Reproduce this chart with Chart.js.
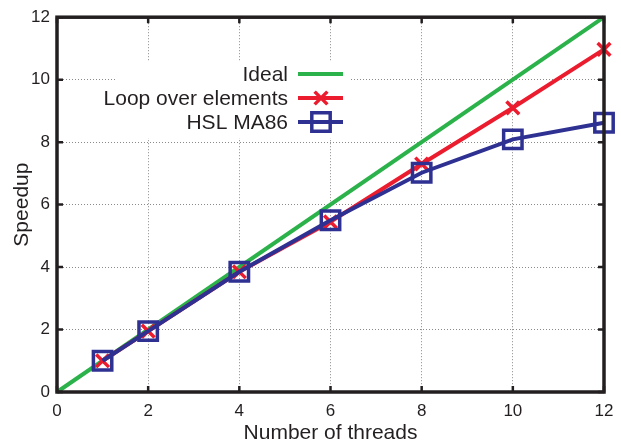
<!DOCTYPE html>
<html>
<head>
<meta charset="utf-8">
<script src="https://cdn.jsdelivr.net/npm/chart.js@4.4.1/dist/chart.umd.min.js"></script>
<style>
  html, body { margin: 0; padding: 0; background: #fff; }
  #wrap { width: 621px; height: 446px; }
</style>
</head>
<body>
<div id="wrap"><canvas id="chart" width="621" height="446"></canvas></div>
<script>
// values
const idealThreads = [0, 12];
const idealSpeedup = [0, 12];
const threads = [1, 2, 4, 6, 8, 10, 12];
const loopSpeedup = [1.0, 1.95, 3.85, 5.45, 7.3, 9.1, 10.97];
const ma86Speedup = [1.0, 1.95, 3.85, 5.5, 7.02, 8.09, 8.62];
const xTicks = [0, 2, 4, 6, 8, 10, 12];
const yTicks = [0, 2, 4, 6, 8, 10, 12];

const GREEN = '#2bb24a';
const RED = '#ec1c2f';
const BLUE = '#2e3192';
const TEXT = '#231f20';
const FONT = '"Liberation Sans", Arial, sans-serif';

const pts = (xs, ys) => xs.map((x, i) => ({ x: x, y: ys[i] }));

// frame, inward tick marks and the boxed legend
const framePlugin = {
  id: 'frame',
  beforeDatasetsDraw(chart) {
    const ctx = chart.ctx;
    ctx.save();
    ctx.fillStyle = '#fff';
    ctx.fillRect(115, 62, 236, 76);
    ctx.restore();
  },
  afterDatasetsDraw(chart) {
    const { ctx, chartArea: a, scales } = chart;
    ctx.save();
    ctx.strokeStyle = '#231f20';
    ctx.lineWidth = 2.5;
    xTicks.forEach(v => {
      const px = scales.x.getPixelForValue(v);
      ctx.beginPath();
      ctx.moveTo(px, a.bottom); ctx.lineTo(px, a.bottom - 6);
      ctx.moveTo(px, a.top); ctx.lineTo(px, a.top + 6);
      ctx.stroke();
    });
    yTicks.forEach(v => {
      const py = scales.y.getPixelForValue(v);
      ctx.beginPath();
      ctx.moveTo(a.left, py); ctx.lineTo(a.left + 6, py);
      ctx.moveTo(a.right, py); ctx.lineTo(a.right - 6, py);
      ctx.stroke();
    });
    ctx.lineWidth = 3.5;
    ctx.strokeRect(a.left, a.top, a.right - a.left, a.bottom - a.top);

    // legend
    ctx.font = '21px ' + FONT;
    ctx.textAlign = 'right';
    ctx.textBaseline = 'middle';
    chart.data.datasets.forEach((ds, i) => {
      const y = 74 + i * 24;
      ctx.fillStyle = TEXT;
      ctx.fillText(ds.label, 288, y + 1);
      ctx.strokeStyle = ds.borderColor;
      ctx.lineWidth = ds.borderWidth;
      ctx.beginPath();
      ctx.moveTo(298, y); ctx.lineTo(343, y);
      ctx.stroke();
      if (ds.pointRadius > 0) {
        ctx.lineWidth = ds.pointBorderWidth;
        ctx.strokeStyle = ds.borderColor;
        ctx.fillStyle = 'rgba(0,0,0,0)';
        Chart.helpers.drawPoint(ctx, { pointStyle: ds.pointStyle, radius: ds.pointRadius, rotation: 0, borderWidth: ds.pointBorderWidth }, 321, y);
      }
    });
    ctx.restore();
  }
};

new Chart(document.getElementById('chart').getContext('2d'), {
  type: 'line',
  data: {
    datasets: [
      {
        label: 'Ideal',
        data: pts(idealThreads, idealSpeedup),
        borderColor: GREEN,
        borderWidth: 4,
        pointRadius: 0,
        clip: false,
        order: 3
      },
      {
        label: 'Loop over elements',
        data: pts(threads, loopSpeedup),
        borderColor: RED,
        borderWidth: 4,
        pointStyle: 'crossRot',
        pointRadius: 9,
        pointBorderWidth: 3.5,
        pointBackgroundColor: 'rgba(0,0,0,0)',
        clip: false,
        order: 2
      },
      {
        label: 'HSL MA86',
        data: pts(threads, ma86Speedup),
        borderColor: BLUE,
        borderWidth: 4,
        pointStyle: 'rect',
        pointRadius: 13,
        pointBorderWidth: 3.5,
        pointBackgroundColor: 'rgba(0,0,0,0)',
        clip: false,
        order: 1
      }
    ]
  },
  options: {
    responsive: false,
    animation: false,
    layout: { padding: { top: 15, right: 17, left: 0, bottom: 0 } },
    plugins: { legend: { display: false }, tooltip: { enabled: false } },
    scales: {
      x: {
        type: 'linear',
        min: 0, max: 12,
        afterBuildTicks: s => { s.ticks = xTicks.map(v => ({ value: v })); },
        afterFit: s => { s.height = 54; s.paddingRight = 0; },
        border: { display: false, dash: [1, 2] },
        grid: { color: '#8a8a8a', lineWidth: 1, drawTicks: false },
        ticks: { color: TEXT, font: { family: FONT, size: 17 }, padding: 9, maxRotation: 0 },
        title: {
          display: true, text: 'Number of threads', color: TEXT,
          font: { family: FONT, size: 21 }, padding: { top: 0, bottom: 0 }
        }
      },
      y: {
        min: 0, max: 12,
        afterBuildTicks: s => { s.ticks = yTicks.map(v => ({ value: v })); },
        afterFit: s => { s.width = 57; },
        border: { display: false, dash: [1, 2] },
        grid: { color: '#8a8a8a', lineWidth: 1, drawTicks: false },
        ticks: { color: TEXT, font: { family: FONT, size: 17 }, padding: 7 },
        title: {
          display: true, text: 'Speedup', color: TEXT,
          font: { family: FONT, size: 21 }, padding: { top: 10, bottom: 0 }
        }
      }
    }
  },
  plugins: [framePlugin]
});
</script>
</body>
</html>
